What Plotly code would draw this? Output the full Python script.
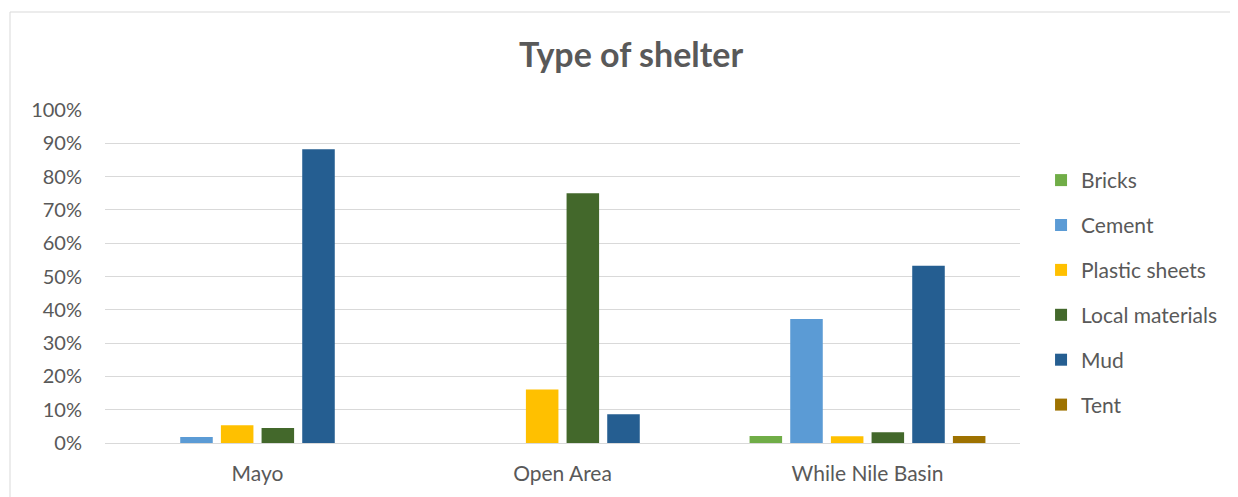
import plotly.graph_objects as go

categories = ["Mayo", "Open Area", "While Nile Basin"]
series_names = ["Bricks", "Cement", "Plastic sheets", "Local materials", "Mud", "Tent"]
bricks = [None, None, 0.021]
cement = [0.018, None, 0.372]
plastic = [0.053, 0.161, 0.020]
local_mat = [0.045, 0.750, 0.032]
mud = [0.882, 0.086, 0.532]
tent = [None, None, 0.021]
colors = ["#70AD47", "#5B9BD5", "#FFC000", "#43682B", "#255E91", "#9E7200"]
tick_vals = [i / 10 for i in range(11)]
tick_text = [f"{i*10}%" for i in range(11)]

fig = go.Figure()
for name, vals, col in zip(series_names, [bricks, cement, plastic, local_mat, mud, tent], colors):
    fig.add_trace(go.Bar(x=categories, y=vals, name=name, marker=dict(color=col, line=dict(width=0)),
                         legendgroup=name))

# page body has an 8px margin; compensate so the plot lands where the reference has it
OFF = 8
W, H = 1238 - OFF, 497 - OFF
ml, mt = 105 - OFF, 110 - OFF
pw, ph = 915, 333
mr, mb = W - ml - pw, H - mt - ph

fig.update_layout(
    width=W, height=H,
    margin=dict(l=ml, r=mr, t=mt, b=mb),
    paper_bgcolor="white", plot_bgcolor="white",
    font=dict(family="Lato, Carlito, Calibri, sans-serif", size=20, color="#595959"),
    title=dict(text="<b>Type of shelter</b>", x=(631 - OFF) / W, xanchor="center",
               y=1 - (55 - OFF) / H, yanchor="middle",
               font=dict(size=34, color="#595959")),
    barmode="group", bargap=0.2, bargroupgap=0.2,
    xaxis=dict(showgrid=False, showline=True, linecolor="#D9D9D9", linewidth=1, ticks="",
               ticklabelstandoff=12, tickfont=dict(size=21, color="#595959")),
    yaxis=dict(range=[0, 1.0], tickvals=tick_vals, ticktext=tick_text, showgrid=True,
               gridcolor="#D9D9D9", gridwidth=1, zeroline=False, showline=False,
               ticklabelstandoff=22, tickfont=dict(size=20, color="#595959")),
    legend=dict(x=1.023, xanchor="left", y=0.85, yanchor="top", tracegroupgap=14.6,
                font=dict(size=21, color="#595959"), itemwidth=30, bgcolor="rgba(0,0,0,0)"),
    showlegend=True,
)
# chart-area border (top and left edges visible in the reference)
top_y = (443 - 12) / ph
left_x = (10 - 105) / pw
fig.add_shape(type="line", xref="paper", yref="paper", x0=left_x, x1=(1245 - 105) / pw, y0=top_y, y1=top_y,
              line=dict(color="#D9D9D9", width=1), layer="below")
fig.add_shape(type="line", xref="paper", yref="paper", x0=left_x, x1=left_x, y0=-(510 - 443) / ph, y1=top_y,
              line=dict(color="#D9D9D9", width=1), layer="below")

fig.write_html("out.html")
